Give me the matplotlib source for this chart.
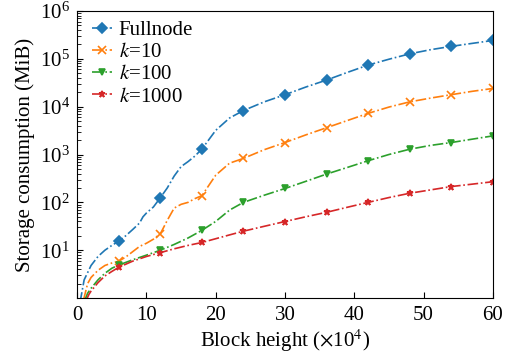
import numpy as np
import matplotlib
matplotlib.use('Agg')
import matplotlib.pyplot as plt

plt.rcParams['font.family'] = ['Liberation Serif', 'DejaVu Serif']
plt.rcParams['mathtext.fontset'] = 'stix'

# 数据
x_full = [0.4, 1, 2, 3, 4, 5, 6, 7, 8, 9, 9.5, 10, 11, 12, 13, 14, 15, 16, 17, 18,
          20, 22, 24, 27, 30, 33, 36, 39, 42, 45, 48, 51, 54, 57, 60]
y_full = [0.8, 2.4, 4.8, 7.4, 10, 12.6, 15.5, 20, 27, 37, 50, 60, 80, 125, 200, 355, 560, 710, 930, 1300,
          3200, 5800, 8300, 12600, 17800, 25700, 36000, 52000, 74000, 98000, 127000, 155000, 182000, 210000, 242000]

x_k10 = [0.9, 1.5, 2, 3, 4, 5, 6, 7, 8, 9, 10, 11, 12, 13, 14, 15, 16, 17, 18,
         20, 22, 24, 27, 30, 33, 36, 39, 42, 45, 48, 51, 54, 57, 60]
y_k10 = [0.9, 2.0, 2.7, 3.8, 4.8, 5.4, 5.9, 7.2, 9.3, 12, 14, 17, 22, 42, 76, 91, 100, 120, 138,
         370, 660, 830, 1260, 1780, 2570, 3630, 5130, 7240, 9800, 12600, 15100, 17800, 20900, 24000]

x_k100 = [1.1, 1.5, 2, 3, 4, 5, 6, 8, 10, 12, 14, 16, 18, 20, 22, 24, 27, 30,
          33, 36, 39, 42, 45, 48, 51, 54, 57, 60]
y_k100 = [0.9, 1.26, 1.6, 2.4, 3.3, 4.2, 4.9, 6.3, 7.9, 10, 13.2, 18, 26, 40, 69, 100, 141, 195,
          275, 390, 537, 741, 1000, 1290, 1550, 1780, 2090, 2450]

x_k1000 = [1.3, 1.7, 2, 3, 4, 5, 6, 8, 10, 12, 14, 16, 18, 20, 22, 24, 27, 30,
           33, 36, 39, 42, 45, 48, 51, 54, 57, 60]
y_k1000 = [0.9, 1.2, 1.4, 2.1, 2.9, 3.6, 4.4, 5.9, 7.4, 8.9, 10.7, 12.6, 14.5, 17.4, 20.9, 25, 31.6, 39.8,
           50, 62, 79, 100, 126, 155, 182, 214, 240, 270]

labels = ['Fullnode', '$k$=10', '$k$=100', '$k$=1000']
markers = ['D', 'x', 'v', '*']
colors = ['#1f77b4', '#ff7f0e', '#2ca02c', '#d62728']
series = [(x_full, y_full), (x_k10, y_k10), (x_k100, y_k100), (x_k1000, y_k1000)]

fig = plt.figure(figsize=(5.08, 3.54), dpi=100)
ax = fig.add_axes([0.152, 0.158, 0.818, 0.811])

for (xs, ys), lab, mk, c in zip(series, labels, markers, colors):
    xs = np.array(xs)
    # 每 6 个单位标一个点
    every = [i for i, v in enumerate(xs) if v % 6 == 0]
    ax.plot(xs, ys, linestyle='-.', lw=1.2, color=c, marker=mk, markevery=every,
            ms=5 if mk != 'x' else 6, mew=1.2, label=lab)

ax.set_yscale('log')
ax.set_xlim(0, 60)
ax.set_ylim(1, 1e6)
ax.set_xticks([0, 10, 20, 30, 40, 50, 60])
ax.set_yticks([1e1, 1e2, 1e3, 1e4, 1e5, 1e6])
ax.tick_params(which='both', direction='in', top=False, right=False, labelsize=15)
ax.tick_params(which='major', length=4.5, pad=5.5)
ax.tick_params(which='minor', length=3)
ax.set_xlabel('Block height ($\\times$10$^4$)', fontsize=15, labelpad=2)
ax.set_ylabel('Storage consumption (MiB)', fontsize=15, labelpad=3)
ax.legend(loc='upper left', bbox_to_anchor=(0, 1.017), frameon=False, fontsize=15,
          handlelength=0.96, labelspacing=0.12, handletextpad=0.33, borderaxespad=0.3)

plt.savefig('out.png', dpi=100)
